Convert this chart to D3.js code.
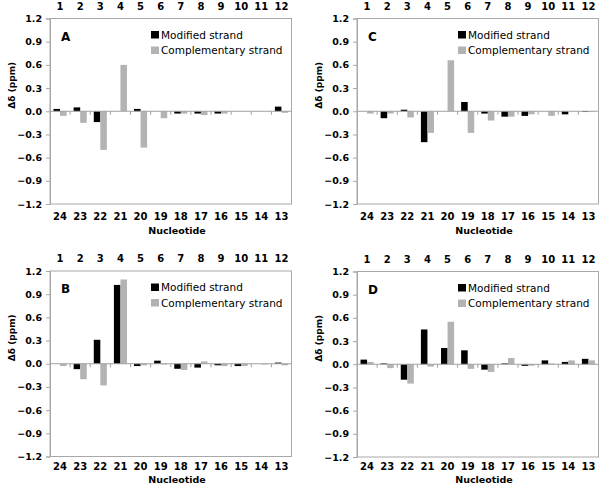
<!DOCTYPE html>
<html>
<head>
<meta charset="utf-8">
<script src="https://cdn.jsdelivr.net/npm/d3@7"></script>
<style>
  html, body { margin: 0; padding: 0; background: #fff; }
  svg { display: block; }
  text { font-family: "DejaVu Sans", Verdana, sans-serif; fill: #000; }
</style>
</head>
<body>
<svg id="chart" width="600" height="486"></svg>
<script>
// ---- Data ----
const topLabels = ["1","2","3","4","5","6","7","8","9","10","11","12"];
const bottomLabels = ["24","23","22","21","20","19","18","17","16","15","14","13"];
const yTicks = [1.2, 0.9, 0.6, 0.3, 0.0, -0.3, -0.6, -0.9, -1.2];
const seriesNames = ["Modified strand", "Complementary strand"];

const panelA_modified      = [0.03, 0.05, -0.14, 0.00, 0.03, 0.00, -0.03, -0.03, -0.03, 0.00, 0.00, 0.06];
const panelA_complementary = [-0.06, -0.15, -0.50, 0.60, -0.47, -0.09, -0.03, -0.05, -0.03, 0.00, 0.00, -0.02];

const panelB_modified      = [0.00, -0.07, 0.31, 1.02, -0.03, 0.04, -0.065, -0.05, -0.02, -0.03, 0.00, 0.015];
const panelB_complementary = [-0.03, -0.20, -0.28, 1.09, -0.02, -0.01, -0.08, 0.03, -0.03, -0.03, -0.01, -0.02];

const panelC_modified      = [0.00, -0.09, 0.02, -0.40, 0.00, 0.12, -0.03, -0.07, -0.06, 0.00, -0.04, -0.01];
const panelC_complementary = [-0.03, -0.03, -0.08, -0.28, 0.66, -0.28, -0.12, -0.07, -0.04, -0.06, 0.00, -0.005];

const panelD_modified      = [0.06, 0.01, -0.20, 0.45, 0.21, 0.18, -0.07, 0.01, -0.02, 0.05, 0.03, 0.07];
const panelD_complementary = [0.03, -0.05, -0.25, -0.03, 0.55, -0.06, -0.10, 0.08, -0.02, 0.01, 0.05, 0.05];

const panels = [
  { letter: "A", ox: 0,   oy: 0,   mod: panelA_modified, comp: panelA_complementary },
  { letter: "C", ox: 307, oy: 0,   mod: panelC_modified, comp: panelC_complementary },
  { letter: "B", ox: 0,   oy: 252.5, mod: panelB_modified, comp: panelB_complementary },
  { letter: "D", ox: 307, oy: 253, mod: panelD_modified, comp: panelD_complementary }
];

const colors = { "Modified strand": "#000000", "Complementary strand": "#b3b3b3" };

// ---- Drawing ----
const svg = d3.select("#chart");
const plotL = 50, plotR = 291.5, plotT = 18.5, plotB = 204;

panels.forEach(p => {
  const g = svg.append("g").attr("transform", `translate(${p.ox},${p.oy})`);

  const x = d3.scaleBand().domain(topLabels).range([plotL, plotR]).paddingInner(0.35).paddingOuter(0.175);
  const xStep = d3.scaleBand().domain(topLabels).range([plotL, plotR]).padding(0);
  const xs = d3.scaleBand().domain(seriesNames).range([0, x.bandwidth()]);
  const y = d3.scaleLinear().domain([-1.2, 1.2]).range([plotB, plotT]);

  // plot box
  g.append("rect")
    .attr("x", plotL).attr("y", plotT)
    .attr("width", plotR - plotL).attr("height", plotB - plotT)
    .attr("fill", "none").attr("stroke", "#a8a8a8").attr("stroke-width", 1);

  // y axis
  const yAxis = d3.axisLeft(y).tickValues(yTicks).tickFormat(d3.format(".1f")).tickSize(4).tickPadding(4);
  const ya = g.append("g").attr("transform", `translate(${plotL},0)`).call(yAxis);
  ya.select(".domain").attr("stroke", "#a8a8a8");
  ya.selectAll(".tick line").attr("stroke", "#a8a8a8");
  ya.selectAll(".tick text")
    .attr("font-family", "DejaVu Sans, Verdana, sans-serif")
    .attr("font-size", "9.5px").attr("font-weight", "bold").attr("fill", "#000");

  // bars
  const rows = [];
  topLabels.forEach((c, i) => {
    rows.push({ cat: c, series: seriesNames[0], v: p.mod[i] });
    rows.push({ cat: c, series: seriesNames[1], v: p.comp[i] });
  });
  g.selectAll("rect.bar").data(rows).enter().append("rect")
    .attr("class", "bar")
    .attr("x", d => x(d.cat) + xs(d.series))
    .attr("width", xs.bandwidth())
    .attr("y", d => Math.min(y(d.v), y(0)))
    .attr("height", d => Math.abs(y(d.v) - y(0)))
    .attr("fill", d => colors[d.series]);

  // zero line (category axis)
  g.append("line")
    .attr("x1", plotL).attr("x2", plotR)
    .attr("y1", y(0)).attr("y2", y(0))
    .attr("stroke", "#a0a0a0").attr("stroke-width", 1);
  g.selectAll("line.ctick").data(topLabels.slice(1)).enter().append("line")
    .attr("class", "ctick")
    .attr("x1", d => xStep(d)).attr("x2", d => xStep(d))
    .attr("y1", y(0)).attr("y2", y(0) + 3.5)
    .attr("stroke", "#a0a0a0").attr("stroke-width", 1);

  // top labels
  g.selectAll("text.top").data(topLabels).enter().append("text")
    .attr("class", "top")
    .attr("x", d => xStep(d) + xStep.bandwidth() / 2)
    .attr("y", 9.5)
    .attr("text-anchor", "middle")
    .attr("font-size", "10px").attr("font-weight", "bold")
    .text(d => d);

  // bottom labels (kept clear of the title for the lower panels)
  g.selectAll("text.bot").data(bottomLabels).enter().append("text")
    .attr("class", "bot")
    .attr("x", (d, i) => xStep(topLabels[i]) + xStep.bandwidth() / 2)
    .attr("y", Math.min(plotB + 16, 470 - p.oy))
    .attr("text-anchor", "middle")
    .attr("font-size", "10px").attr("font-weight", "bold")
    .text(d => d);

  // x title (kept inside the 486px page for the lower panels)
  g.append("text")
    .attr("x", 177).attr("y", Math.min(plotB + 30, 482.5 - p.oy))
    .attr("text-anchor", "middle")
    .attr("font-size", "9.5px").attr("font-weight", "bold")
    .text("Nucleotide");

  // y title
  g.append("text")
    .attr("transform", `translate(14.5,${(plotT + plotB) / 2 - 26}) rotate(-90)`)
    .attr("text-anchor", "middle")
    .attr("font-size", "9px").attr("font-weight", "bold")
    .text("Δδ (ppm)");

  // panel letter
  g.append("text")
    .attr("x", plotL + 11).attr("y", plotT + 22)
    .attr("font-size", "12px").attr("font-weight", "bold")
    .text(p.letter);

  // legend
  const lg = g.append("g").attr("transform", `translate(${plotL + 101},${plotT + 12.5})`);
  seriesNames.forEach((s, i) => {
    lg.append("rect")
      .attr("x", 0).attr("y", i * 15.5)
      .attr("width", 8).attr("height", 7.5)
      .attr("fill", colors[s]);
    lg.append("text")
      .attr("x", 10).attr("y", i * 15.5 + 7.5)
      .attr("font-size", "10.5px")
      .text(s);
  });
});
</script>
</body>
</html>
